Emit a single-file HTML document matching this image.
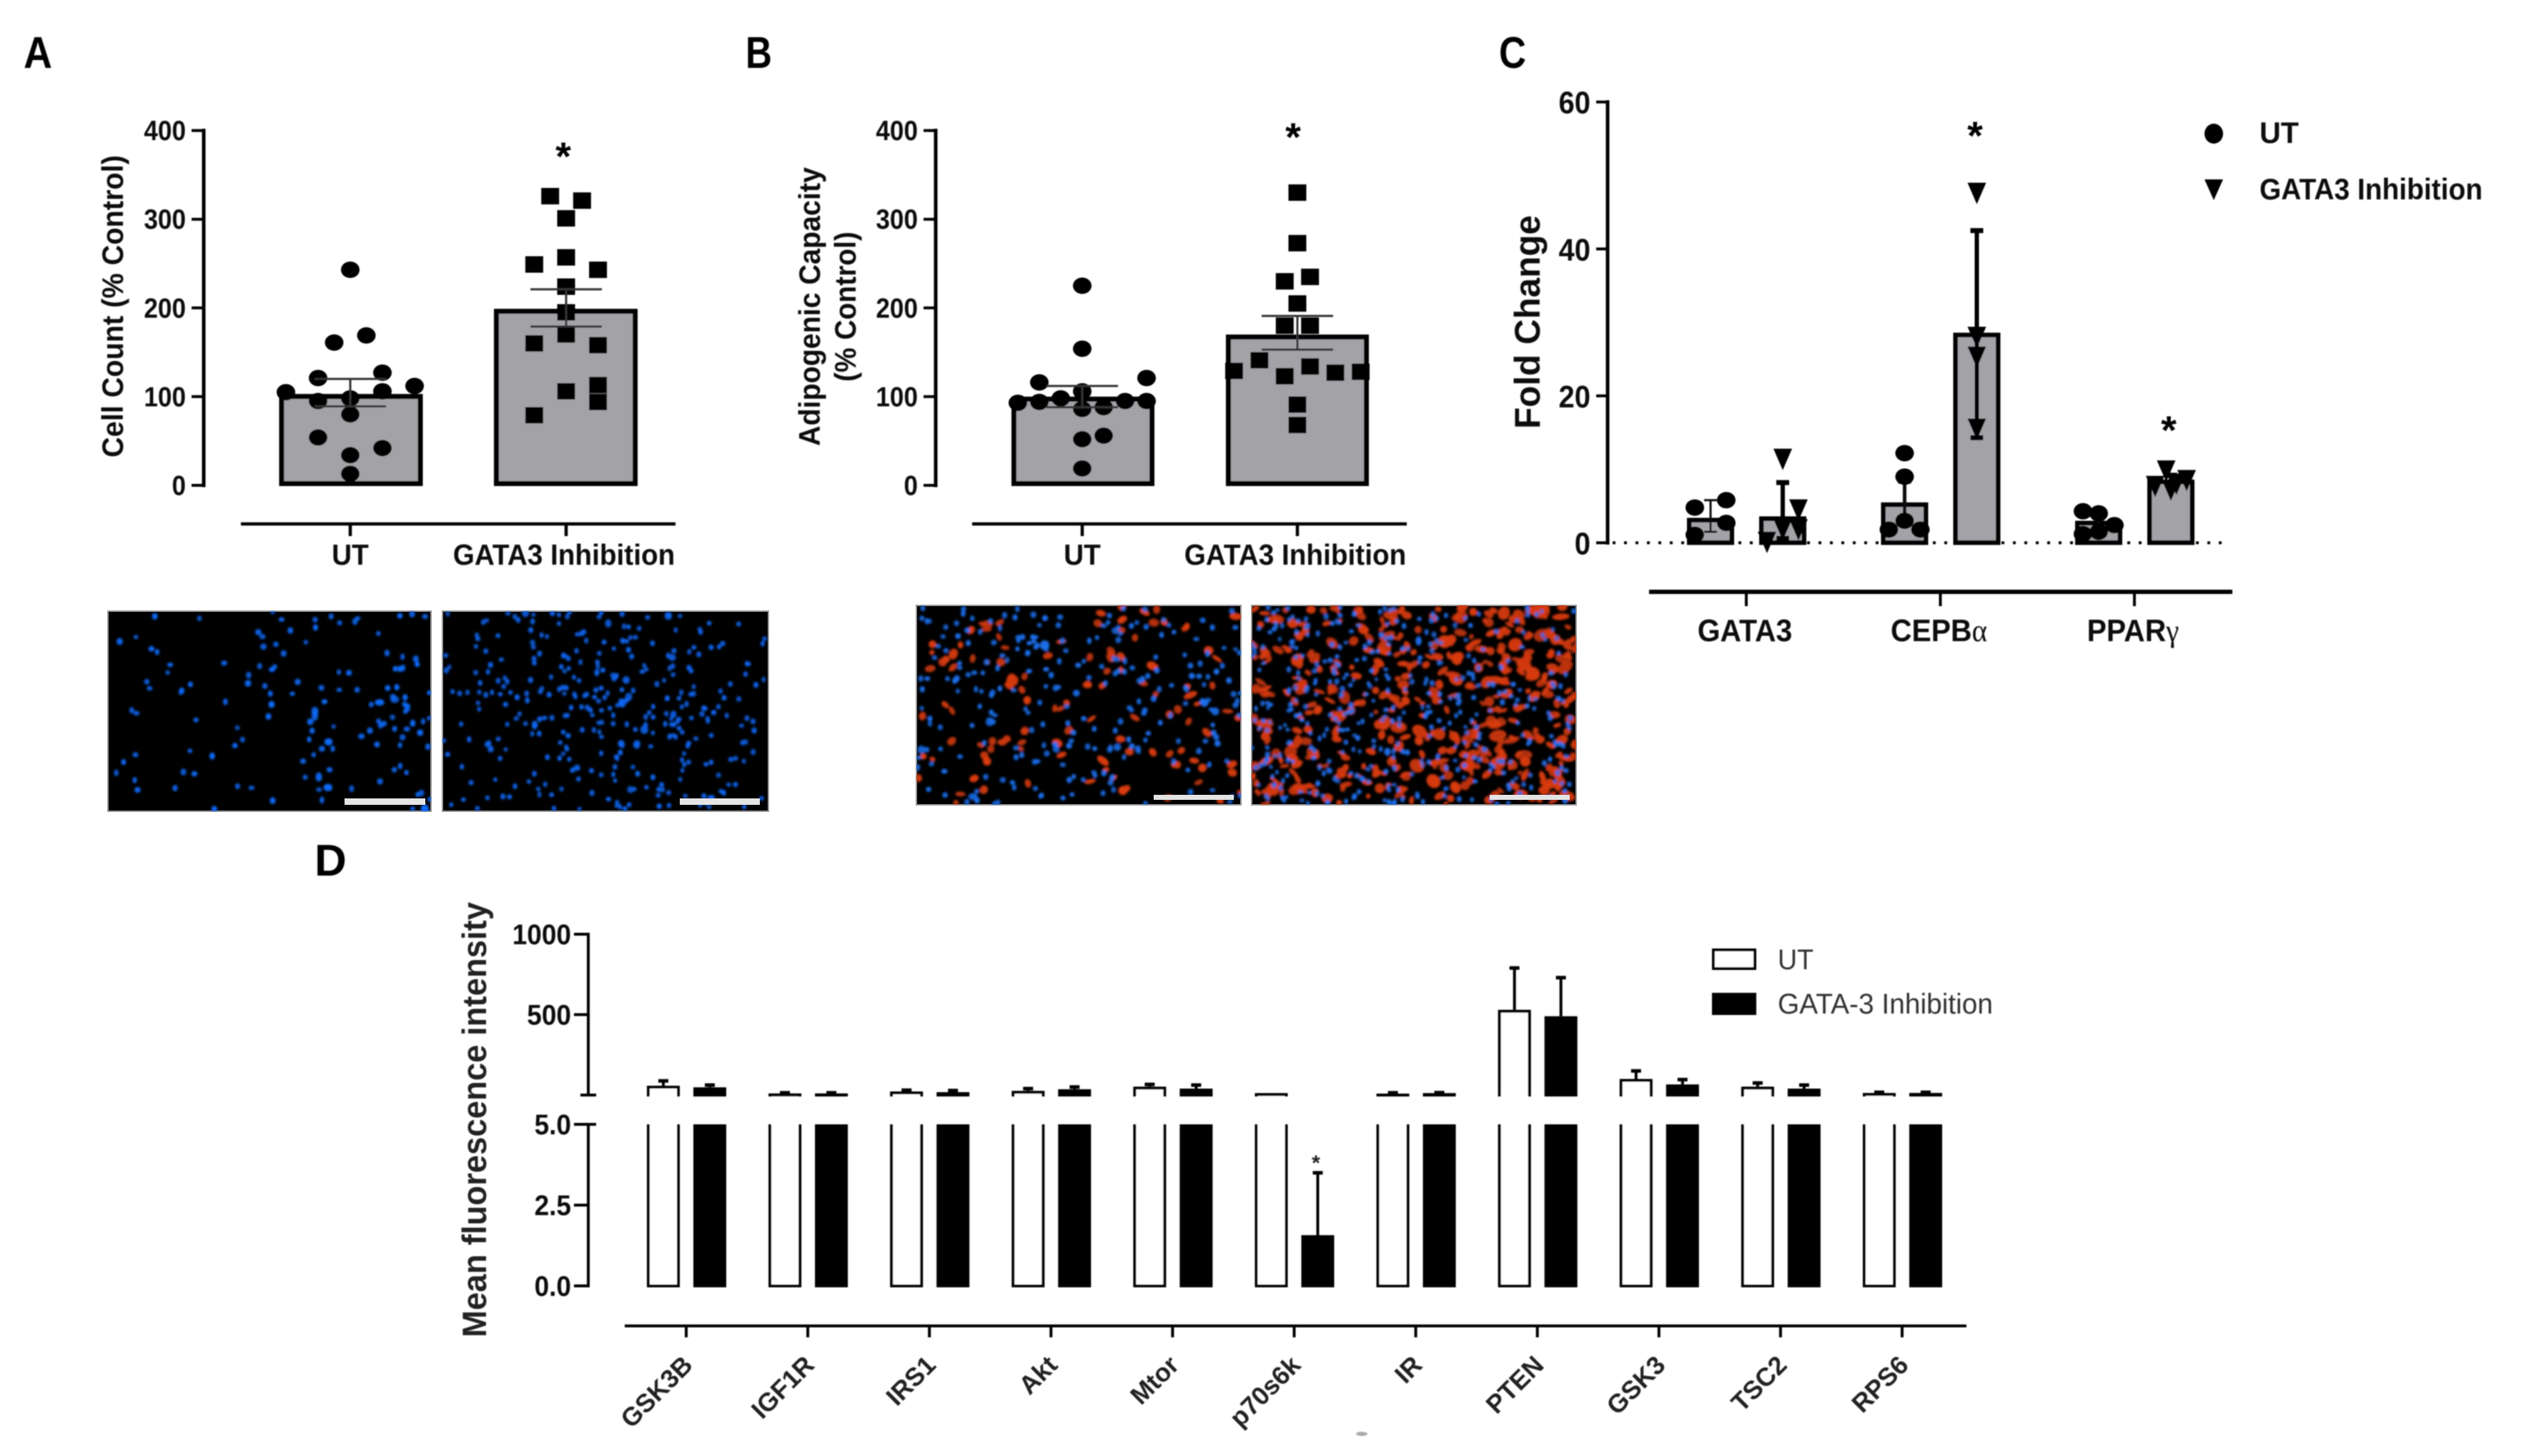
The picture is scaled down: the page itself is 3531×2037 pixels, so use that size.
<!DOCTYPE html>
<html lang="en">
<head>
<meta charset="utf-8">
<title>GATA3 inhibition multi-panel figure</title>
<style>
html,body{margin:0;padding:0;background:#fff;}
#figure{display:block;width:3531px;height:2037px;font-family:"Liberation Sans",Arial,sans-serif;}
.letter{font-size:62px;font-weight:700;fill:#000;}
.title{font-weight:700;fill:#111;}
.tick{font-weight:700;fill:#0a0a0a;}
.cat{font-weight:700;fill:#0a0a0a;}
.star{font-weight:700;fill:#000;}
</style>
</head>
<body>
<svg id="figure" width="3531" height="2037" viewBox="0 0 3531 2037">
  <defs>
    <filter id="soft" x="-2%" y="-2%" width="104%" height="104%"><feGaussianBlur stdDeviation="0.9"/></filter>
    <filter id="softer" x="-2%" y="-2%" width="104%" height="104%"><feGaussianBlur stdDeviation="1.7"/></filter>
  </defs>
  <rect x="0" y="0" width="3531" height="2037" fill="#fff"/>

  <g id="images"></g>

  <g filter="url(#soft)">
    <text class="letter" x="33" y="95" textLength="40" lengthAdjust="spacingAndGlyphs">A</text>
    <text class="letter" x="1043" y="95" textLength="37" lengthAdjust="spacingAndGlyphs">B</text>
    <text class="letter" x="2097" y="95" textLength="38" lengthAdjust="spacingAndGlyphs">C</text>
    <text class="letter" x="440" y="1225">D</text>

    <g id="panelA">
      <text class="title" transform="translate(172,640) rotate(-90)" font-size="42" textLength="423" lengthAdjust="spacingAndGlyphs">Cell Count (% Control)</text>
      <text class="star" x="788" y="238" font-size="56" text-anchor="middle">*</text>
    </g>
    <g id="panelB">
      <text class="title" transform="translate(1147,624) rotate(-90)" font-size="42" textLength="390" lengthAdjust="spacingAndGlyphs">Adipogenic Capacity</text>
      <text class="title" transform="translate(1197,534) rotate(-90)" font-size="42" textLength="210" lengthAdjust="spacingAndGlyphs">(% Control)</text>
      <text class="star" x="1809" y="211" font-size="56" text-anchor="middle">*</text>
    </g>
    <g id="panelC">
      <text class="title" transform="translate(2154,600) rotate(-90)" font-size="50" textLength="299" lengthAdjust="spacingAndGlyphs">Fold Change</text>
      <text class="star" x="2763" y="209" font-size="56" text-anchor="middle">*</text>
      <text class="star" x="3034" y="621" font-size="56" text-anchor="middle">*</text>
      <ellipse cx="3097" cy="187" rx="13" ry="14" fill="#000"/>
      <polygon points="3084,251 3110,251 3097,280" fill="#000"/>
      <text class="cat" x="3161" y="200" font-size="42" textLength="55" lengthAdjust="spacingAndGlyphs">UT</text>
      <text class="cat" x="3161" y="279" font-size="42" textLength="312" lengthAdjust="spacingAndGlyphs">GATA3 Inhibition</text>
    </g>
    <g id="panelD">
      <text class="title" transform="translate(680,1871) rotate(-90)" font-size="47" textLength="609" lengthAdjust="spacingAndGlyphs" style="fill:#222">Mean fluorescence intensity</text>
      <text class="star" x="1841" y="1637" font-size="30" text-anchor="middle" style="fill:#222">*</text>
      <rect x="2397" y="1329" width="58" height="26" fill="#fff" stroke="#000" stroke-width="4"/>
      <rect x="2395" y="1389" width="62" height="31" fill="#000"/>
      <text x="2487" y="1356" font-size="40" fill="#333" textLength="50" lengthAdjust="spacingAndGlyphs">UT</text>
      <text x="2487" y="1418" font-size="40" fill="#333" textLength="301" lengthAdjust="spacingAndGlyphs">GATA-3 Inhibition</text>
      <ellipse cx="1905" cy="2006" rx="8" ry="3" fill="#aaa"/>
    </g>
  </g>
</svg>

<script>
/* ---------- Panel A data: cell count (% control) ---------- */
const aCategories = ['UT', 'GATA3 Inhibition'];
const aTickLabels = [0, 100, 200, 300, 400];
const aMeans = [103, 199];
const aErrHigh = [120, 221];
const aErrLow = [89, 179];
const aUtValues = [243, 161, 169, 121, 127, 105, 112, 106, 98, 95, 80, 54, 42, 34, 13];
const aUtSlots = [0, -1, 1, -2, 2, -4, 4, 2, 0, -2, 0, -2, 2, 0, 0];
const aInhValues = [326, 321, 301, 257, 249, 243, 224, 195, 170, 160, 158, 113, 106, 94, 79];
const aInhSlots = [-1, 1, 0, 0, -2, 2, 0, 0, 0, -2, 2, 2, 0, 2, -2];

/* ---------- Panel B data: adipogenic capacity (% control) ---------- */
const bCategories = ['UT', 'GATA3 Inhibition'];
const bTickLabels = [0, 100, 200, 300, 400];
const bMeans = [100, 170];
const bErrHigh = [112, 191];
const bErrLow = [88, 153];
const bUtValues = [225, 154, 116, 121, 106, 98, 94, 93, 95, 95, 88, 86, 56, 52, 19];
const bUtSlots = [0, 0, -2, 3, 0, -1, -2, -3, 2, 3, 1, 0, 1, 0, 0];
const bInhValues = [330, 273, 235, 230, 205, 180, 180, 141, 134, 129, 127, 128, 123, 91, 68];
const bInhSlots = [0, 0, 1, -1, 0, -1, 1, -3, 1, -5, 3, 5, -1, 0, 0];

/* ---------- Panel C data: fold change ---------- */
const cCategories = ['GATA3', 'CEPB\u03b1', 'PPAR\u03b3'];
const cTickLabels = [0, 20, 40, 60];
const cUtMeans = [3.4, 5.5, 3.0];
const cInhMeans = [3.6, 28.6, 8.6];
const cUtErrHigh = [5.8, 8.3, 4.5];
const cUtErrLow = [1.5, 2.7, 1.0];
const cInhErrHigh = [8.2, 42.5, 9.2];
const cInhErrLow = [0.6, 14.3, 8.0];
const cUtGata3Values = [4.8, 5.8, 2.7, 1.1];
const cUtGata3Slots = [-1, 1, 1, -1];
const cUtCepbValues = [12.2, 9, 3, 1.8, 1.8];
const cUtCepbSlots = [0, 0, 0, -1, 1];
const cUtPparValues = [4.3, 4, 2.4, 1.5, 1.2];
const cUtPparSlots = [-1, 0, 1, 0, -1];
const cInhGata3Values = [11.4, 4.5, 1.8, 1.8, 0.1];
const cInhGata3Slots = [0, 1, 0, 1, -1];
const cInhCepbValues = [47.6, 28, 25.3, 15.5];
const cInhCepbSlots = [0, 0, 0, 0];
const cInhPparValues = [9.8, 8.5, 8, 7.7, 7.2];
const cInhPparSlots = [-0.3, 1, 0.35, -1, 0];

/* ---------- Panel D data: mean fluorescence intensity ---------- */
const dCategories = ['GSK3B', 'IGF1R', 'IRS1', 'Akt', 'Mtor', 'p70s6k', 'IR', 'PTEN', 'GSK3', 'TSC2', 'RPS6'];
const dLowerTicks = ['0.0', '2.5', '5.0'];
const dUpperTicks = ['500', '1000'];
const dUtMeans = [58, 10, 22, 26, 52, 12, 9, 530, 100, 52, 13];
const dUtErrHigh = [88, 14, 30, 40, 66, null, 14, 790, 150, 75, 17];
const dInhMeans = [48, 10, 18, 36, 40, 1.57, 12, 490, 66, 40, 13];
const dInhErrHigh = [62, 14, 28, 50, 62, 3.5, 15, 730, 96, 62, 17];

/* ---------- helpers ---------- */
const svgRoot = document.getElementById('figure');
const NS = svgRoot.namespaceURI;

function mk(parent, tag, attrs, name) {
  const el = document.createElementNS(NS, tag);
  for (const k in attrs) el.setAttribute(k, attrs[k]);
  
  
  parent.appendChild(el);
  return el;
}
function linear(d0, d1, p0, p1) {
  return function (v) { return p0 + (v - d0) * (p1 - p0) / (d1 - d0); };
}
function squeeze(el, factor) {
  el.setAttribute('textLength', (el.getComputedTextLength() * factor).toFixed(1));
  el.setAttribute('lengthAdjust', 'spacingAndGlyphs');
}
function line(g, x1, y1, x2, y2, w, color, name) {
  return mk(g, 'line', { x1: x1, y1: y1, x2: x2, y2: y2, stroke: color, 'stroke-width': w }, name);
}
function drawYAxis(g, ticks, scale, axisX, tickLeft, labelRight, fontSize, labelDy, axisW, factor, name) {
  const ys = ticks.map(function (t) { return scale(parseFloat(t)); });
  line(g, axisX, Math.min.apply(null, ys) - axisW / 2, axisX, Math.max.apply(null, ys) + axisW / 2, axisW, '#000', name + '-line');
  ticks.forEach(function (t, i) {
    line(g, tickLeft, ys[i], axisX, ys[i], 4, '#000', name + '-tick');
    const lab = mk(g, 'text', { x: labelRight, y: ys[i] + labelDy, 'font-size': fontSize, 'text-anchor': 'end', class: 'tick' }, name + '-tick-label');
    lab.textContent = t;
    squeeze(lab, factor);
  });
}
function drawBar(g, cx, w, top, base, sw, name) {
  return mk(g, 'rect', { x: cx - w / 2 + sw / 2, y: top + sw / 2, width: w - sw, height: Math.max(0, base - top - sw), fill: '#a3a2a7', stroke: '#000', 'stroke-width': sw }, name);
}
function drawError(g, cx, hi, lo, halfCap, stem, capW, color, name) {
  line(g, cx, hi, cx, lo, stem, color, name + '-stem');
  line(g, cx - halfCap, hi, cx + halfCap, hi, capW, color, name + '-cap');
  line(g, cx - halfCap, lo, cx + halfCap, lo, capW, color, name + '-cap');
}
function drawMarkers(g, values, slots, cx, slotW, scale, shape, name) {
  values.forEach(function (v, i) {
    const x = cx + slots[i] * slotW;
    const y = scale(v);
    if (shape === 'circle') mk(g, 'ellipse', { cx: x, cy: y, rx: 13, ry: 11.5, fill: '#000' }, name);
    if (shape === 'square') mk(g, 'rect', { x: x - 12.5, y: y - 11.5, width: 25, height: 23, fill: '#000' }, name);
    if (shape === 'triangle') mk(g, 'polygon', { points: (x - 13) + ',' + (y - 14.5) + ' ' + (x + 13) + ',' + (y - 14.5) + ' ' + x + ',' + (y + 15.5), fill: '#000' }, name);
  });
}

/* ---------- Panels A and B ---------- */
function drawScatterBarPanel(cfg) {
  const g = document.getElementById(cfg.id);
  const y = linear(0, 400, 679, 182.6);
  drawYAxis(g, cfg.ticks.map(String), y, cfg.axisX, cfg.axisX - 17, cfg.axisX - 25, 39, 13.5, 5, 0.9, cfg.prefix + '-y-axis');
  line(g, cfg.xLineStart, 733, cfg.xLineEnd, 733, 4.5, '#000', cfg.prefix + '-x-axis');
  cfg.categories.forEach(function (c, i) {
    const tickX = cfg.ticksX + i * cfg.tickStep;
    line(g, tickX, 733, tickX, 750, 4.5, '#000', cfg.prefix + '-x-tick');
    const t = mk(g, 'text', { x: tickX - (i === 1 ? 3 : 0), y: 790, 'font-size': 41, 'text-anchor': 'middle', class: 'cat' }, cfg.prefix + '-category-label');
    t.textContent = c;
    squeeze(t, 0.945);
    const bx = cfg.barX + i * cfg.barStep;
    drawBar(g, bx, cfg.barW, y(cfg.means[i]), 680, 7, cfg.prefix + '-bar');
  });
  drawMarkers(g, cfg.utValues, cfg.utSlots, cfg.ticksX, cfg.utSlot, y, 'circle', cfg.prefix + '-ut-point');
  drawMarkers(g, cfg.inhValues, cfg.inhSlots, cfg.ticksX + cfg.tickStep, cfg.inhSlot, y, 'square', cfg.prefix + '-inhibition-point');
  cfg.categories.forEach(function (c, i) {
    drawError(g, cfg.ticksX + i * cfg.tickStep, y(cfg.errHigh[i]), y(cfg.errLow[i]), 50, 3, 3, '#333', cfg.prefix + '-error-bar');
  });
}
drawScatterBarPanel({
  id: 'panelA', prefix: 'a', ticks: aTickLabels, categories: aCategories, means: aMeans,
  errHigh: aErrHigh, errLow: aErrLow, utValues: aUtValues, utSlots: aUtSlots, inhValues: aInhValues, inhSlots: aInhSlots,
  axisX: 285, xLineStart: 337, xLineEnd: 945, ticksX: 490, tickStep: 302, barX: 491, barStep: 300.5, barW: 201,
  utSlot: 22.5, inhSlot: 22.3
});
drawScatterBarPanel({
  id: 'panelB', prefix: 'b', ticks: bTickLabels, categories: bCategories, means: bMeans,
  errHigh: bErrHigh, errLow: bErrLow, utValues: bUtValues, utSlots: bUtSlots, inhValues: bInhValues, inhSlots: bInhSlots,
  axisX: 1309, xLineStart: 1360, xLineEnd: 1968, ticksX: 1514, tickStep: 301, barX: 1515, barStep: 300, barW: 200,
  utSlot: 30, inhSlot: 17.7
});

/* ---------- Panel C ---------- */
(function () {
  const g = document.getElementById('panelC');
  const y = linear(0, 60, 759.4, 142.7);
  drawYAxis(g, cTickLabels.map(String), y, 2249, 2233, 2225, 44, 16, 5, 0.91, 'c-y-axis');
  line(g, 2307, 828, 3123, 828, 6, '#000', 'c-x-axis');
  const tickX = linear(0, 2, 2443, 2986);
  const utGroups = [[cUtGata3Values, cUtGata3Slots], [cUtCepbValues, cUtCepbSlots], [cUtPparValues, cUtPparSlots]];
  const inhGroups = [[cInhGata3Values, cInhGata3Slots], [cInhCepbValues, cInhCepbSlots], [cInhPparValues, cInhPparSlots]];
  const base = y(0);
  cCategories.forEach(function (c, i) {
    const tx = tickX(i);
    line(g, tx, 828, tx, 848, 4, '#000', 'c-x-tick');
    const label = mk(g, 'text', { x: tx - 2, y: 897, 'font-size': 44, 'text-anchor': 'middle', class: 'cat' }, 'c-category-label');
    const last = c.charAt(c.length - 1);
    if (last > '\u0370') {
      label.appendChild(document.createTextNode(c.slice(0, -1)));
      const greek = mk(label, 'tspan', { 'font-family': '"Liberation Serif",serif', 'font-weight': 400 }, 'c-category-greek-letter');
      greek.textContent = last;
    } else {
      label.textContent = c;
    }
    squeeze(label, 0.93);
    drawBar(g, tx - 50, 66, y(cUtMeans[i]), base + 3, 6.5, 'c-ut-bar');
    drawBar(g, tx + 51, 66, y(cInhMeans[i]), base + 3, 6.5, 'c-inhibition-bar');
  });
  mk(g, 'line', { x1: 2256, y1: base, x2: 3108, y2: base, stroke: '#000', 'stroke-width': 4, 'stroke-dasharray': '4 12' }, 'c-zero-baseline');
  cCategories.forEach(function (c, i) {
    const tx = tickX(i);
    const utX = tx - 50;
    const inhX = tx + 51;
    const utStem = i === 0 ? 3 : 5;
    const inhStem = 6;
    drawError(g, utX, y(cUtErrHigh[i]), y(cUtErrLow[i]), 9, utStem, utStem, '#111', 'c-ut-error-bar');
    drawError(g, inhX, y(cInhErrHigh[i]), y(cInhErrLow[i]), 9, inhStem, 7, '#000', 'c-inhibition-error-bar');
    drawMarkers(g, utGroups[i][0], utGroups[i][1], utX, 22, y, 'circle', 'c-ut-point');
    drawMarkers(g, inhGroups[i][0], inhGroups[i][1], inhX, 22, y, 'triangle', 'c-inhibition-point');
  });
})();

/* ---------- Panel D ---------- */
(function () {
  const g = document.getElementById('panelD');
  const yLow = linear(0, 5, 1799, 1573);
  const yHigh = linear(0, 1000, 1532, 1307);
  const breakBase = 1534;
  drawYAxis(g, dLowerTicks, yLow, 823, 803, 799, 40, 14, 4, 0.925, 'd-lower-y-axis');
  drawYAxis(g, dUpperTicks, function (v) { return yHigh(v); }, 823, 803, 799, 40, 14, 4, 0.925, 'd-upper-y-axis');
  line(g, 823, 1419, 823, breakBase, 4, '#000', 'd-upper-y-axis-stub');
  line(g, 812, breakBase - 2, 834, breakBase - 2, 4, '#000', 'd-axis-break-cap');
  line(g, 823, yLow(5), 834, yLow(5), 4, '#000', 'd-axis-break-cap');
  line(g, 874, 1855, 2751, 1855, 4, '#000', 'd-x-axis');
  const tickX = linear(0, 10, 960, 2661);

  function drawD(cx, value, hi, filled, name) {
    const left = cx - 23, right = cx + 23;
    const lowTop = value <= 5 ? yLow(value) : yLow(5);
    if (filled) {
      mk(g, 'rect', { x: left, y: lowTop, width: 46, height: 1801 - lowTop, fill: '#000' }, name + '-lower');
    } else {
      mk(g, 'path', { d: 'M' + (left + 2) + ' ' + lowTop + 'V1799H' + (right - 2) + 'V' + lowTop, fill: '#fff', stroke: '#000', 'stroke-width': 4 }, name + '-lower');
    }
    if (value > 5) {
      const top = yHigh(value);
      if (filled) {
        mk(g, 'rect', { x: left, y: top, width: 46, height: breakBase - top, fill: '#000' }, name + '-upper');
      } else {
        mk(g, 'path', { d: 'M' + (left + 2) + ' ' + breakBase + 'V' + (top + 2) + 'H' + (right - 2) + 'V' + breakBase, fill: '#fff', stroke: '#000', 'stroke-width': 4 }, name + '-upper');
      }
    }
    if (hi !== null) {
      const scale = value <= 5 ? yLow : yHigh;
      line(g, cx, scale(value), cx, scale(hi), 4, '#000', name + '-error-stem');
      line(g, cx - 7, scale(hi), cx + 7, scale(hi), 5, '#000', name + '-error-cap');
    }
  }

  dCategories.forEach(function (c, i) {
    const tx = tickX(i);
    line(g, tx, 1855, tx, 1871, 4, '#000', 'd-x-tick');
    const lx = tx + 11;
    const ly = 1912;
    const t = mk(g, 'text', { transform: 'translate(' + lx + ',' + ly + ') rotate(-45)', 'font-size': 36, 'text-anchor': 'end', class: 'cat', style: 'fill:#222' }, 'd-category-label');
    t.textContent = c;
    drawD(tx - 32, dUtMeans[i], dUtErrHigh[i], false, 'd-ut-bar');
    drawD(tx + 33, dInhMeans[i], dInhErrHigh[i], true, 'd-inhibition-bar');
  });
})();

/* ---------- Micrographs: decorative photo texture, not chart data ---------- */
function speckleSource(seed) {
  let s = seed >>> 0;
  return function () {
    s = (Math.imul(s, 1664525) + 1013904223) >>> 0;
    return s / 4294967296;
  };
}
function drawMicrograph(name, x, y, w, h, barX, barY, barW, barH, layers, seed) {
  const root = document.getElementById('images');
  const next = speckleSource(seed);
  const frame = mk(root, 'g', {}, name);
  const clip = mk(frame, 'clipPath', { id: name + '-clip' }, name + '-clip-region');
  mk(clip, 'rect', { x: x, y: y, width: w, height: h }, name + '-clip-rect');
  mk(frame, 'rect', { x: x, y: y, width: w, height: h, fill: '#000', stroke: '#999', 'stroke-width': 2 }, name + '-field');
  const cells = mk(frame, 'g', { 'clip-path': 'url(#' + name + '-clip)' }, name + '-cells');
  const blurred = mk(cells, 'g', { filter: 'url(#softer)' }, name + '-stained-cells');
  layers.forEach(function (layer) {
    let placed = 0, guard = 0;
    while (placed < layer.count && guard < layer.count * 60) {
      guard++;
      const u = next(), v = next();
      if (next() > layer.density(u, v)) continue;
      const big = next() < layer.bigShare ? layer.bigScale : 1;
      const rx = (layer.rx[0] + next() * (layer.rx[1] - layer.rx[0])) * big;
      const ry = (layer.ry[0] + next() * (layer.ry[1] - layer.ry[0])) * big;
      const cx = x + u * w, cy = y + v * h;
      const rot = layer.tilt ? (next() - 0.5) * 90 : 0;
      const op = 0.8 + next() * 0.2;
      mk(blurred, 'ellipse', { cx: cx, cy: cy, rx: rx, ry: ry, fill: layer.color, opacity: op, transform: 'rotate(' + rot + ' ' + cx + ' ' + cy + ')' }, layer.label);
      placed++;
    }
  });
  mk(frame, 'rect', { x: barX, y: barY, width: barW, height: barH, fill: '#e4e4e4' }, name + '-scale-bar');
}
const flat = function () { return 1; };
drawMicrograph('micrograph-a-ut', 151, 855, 452, 280, 482, 1117, 113, 9, [
  { count: 135, color: '#0a6cff', rx: [3, 4.5], ry: [3, 5], bigShare: 0.07, bigScale: 1.5, label: 'nucleus',
    density: function (u) { return 0.3 + 0.7 * u * u; } }
], 11);
drawMicrograph('micrograph-a-gata3', 619, 855, 456, 280, 951, 1117, 112, 9, [
  { count: 340, color: '#0a66f4', rx: [2.8, 3.8], ry: [3, 4.4], bigShare: 0.04, bigScale: 1.5, label: 'nucleus',
    density: function (u, v) { return 0.22 + 0.78 * Math.exp(-((u - 0.55) * (u - 0.55) * 8 + (v - 0.45) * (v - 0.45) * 3)); } }
], 29);
drawMicrograph('micrograph-b-ut', 1282, 847, 454, 279, 1614, 1112, 112, 7, [
  { count: 115, color: '#dc3c0c', rx: [3.5, 8], ry: [3, 6.5], bigShare: 0.15, bigScale: 1.3, tilt: true, label: 'lipid-stain', density: flat },
  { count: 250, color: '#1a70f0', rx: [3, 4.4], ry: [3, 4.8], bigShare: 0.04, bigScale: 1.5, label: 'nucleus', density: flat }
], 53);
drawMicrograph('micrograph-b-gata3', 1751, 847, 454, 279, 2084, 1112, 112, 7, [
  { count: 480, color: '#d83a0c', rx: [3, 9], ry: [2.5, 7], bigShare: 0.18, bigScale: 1.4, tilt: true, label: 'lipid-stain',
    density: function (u) { return 0.6 + 0.4 * u; } },
  { count: 420, color: '#1d6fee', rx: [2.6, 3.8], ry: [2.6, 4.4], bigShare: 0.03, bigScale: 1.5, label: 'nucleus',
    density: function (u) { return 1 - 0.45 * u; } }
], 97);
</script>
</body>
</html>
